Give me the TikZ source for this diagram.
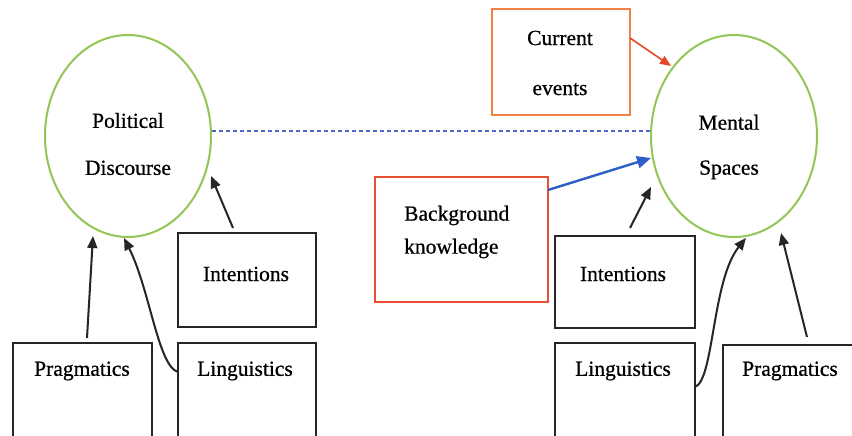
\documentclass[tikz,border=0pt]{standalone}
\usepackage{fontspec}
\setmainfont{Liberation Serif}[FakeBold=0.7]
\usetikzlibrary{shapes.geometric,arrows.meta}
\definecolor{egreen}{RGB}{146,198,86}
\definecolor{eorange}{RGB}{240,130,70}
\definecolor{ered}{RGB}{232,80,50}
\definecolor{eblue}{RGB}{45,95,200}
\definecolor{edash}{RGB}{80,100,210}
\definecolor{earrow}{RGB}{230,70,40}
\tikzset{
  circ/.style={draw=egreen, line width=2pt, ellipse, minimum width=166pt, minimum height=202pt, inner sep=0pt},
  bbox/.style={draw=black!85, line width=2.3pt, rectangle, inner sep=0pt},
  txt/.style={inner sep=0pt, font=\fontsize{21.5}{26}\selectfont},
  arr/.style={draw=black!85, line width=2pt, -{Triangle[length=12pt,width=10pt]}},
}
\begin{document}
\begin{tikzpicture}[x=1pt,y=-1pt]
\useasboundingbox (0,0) rectangle (852,436);
\clip (0,0) rectangle (852,436);
\fill[white] (0,0) rectangle (852,436);
% ellipses
\node[circ] (pd) at (128,136) {};
\node[circ] (ms) at (734,136) {};
\node[txt, align=center, font=\fontsize{21.5}{47}\selectfont] (pdt) at (128,144) {Political\\Discourse};
\node[txt, align=center, font=\fontsize{21.5}{45}\selectfont] (mst) at (729,147) {Mental\\Spaces};
% dashed link
\draw[edash, line width=1.4pt, dash pattern=on 4pt off 3pt] (pd.east |- 0,131) -- (ms.west |- 0,131);
% current events
\node[draw=eorange, line width=2pt, rectangle, minimum width=138pt, minimum height=106pt] (ce) at (561,62) {};
\node[txt, align=center, font=\fontsize{21.5}{50}\selectfont] (cet) at (560,63) {Current\\events};
% background knowledge
\node[draw=ered, line width=2pt, rectangle, minimum width=173pt, minimum height=125pt] (bk) at (461.5,239.5) {};
\node[txt, align=left, font=\fontsize{21.5}{33}\selectfont, anchor=west] (bkt) at (404,232) {Background\\knowledge};
% left boxes
\node[bbox, minimum width=138pt, minimum height=94pt] (li) at (247,280) {};
\node[txt] (lit) at (246,274) {Intentions};
\node[bbox, minimum width=139pt, minimum height=96pt] (lp) at (82.5,391) {};
\node[txt] (lpt) at (82,371) {Pragmatics};
\node[bbox, minimum width=138pt, minimum height=96pt] (ll) at (247,391) {};
\node[txt] (llt) at (245,371) {Linguistics};
% right boxes
\node[bbox, minimum width=140pt, minimum height=92pt] (ri) at (625,282) {};
\node[txt] (rit) at (623,274) {Intentions};
\node[bbox, minimum width=140pt, minimum height=96pt] (rl) at (625,391) {};
\node[txt] (rlt) at (623,371) {Linguistics};
\node[bbox, minimum width=140pt, minimum height=94pt] (rp) at (793,392) {};
\node[txt] (rpt) at (790,371) {Pragmatics};
% coordinates for arrow ends
\coordinate (a1s) at (233,228); \coordinate (a1e) at (211,176);
\coordinate (a2s) at (87,338);  \coordinate (a2e) at (93,236);
\coordinate (a3s) at (178,372); \coordinate (a3e) at (124,238);
\coordinate (a4s) at (630,228); \coordinate (a4e) at (651,187);
\coordinate (a5s) at (695,387); \coordinate (a5e) at (746,238);
\coordinate (a6s) at (807,337); \coordinate (a6e) at (781,233);
\coordinate (a7s) at (630,38);  \coordinate (a7e) at (671,66);
\coordinate (a8s) at (548,190); \coordinate (a8e) at (651,158);
% black arrows
\draw[arr] (a1s) -- (a1e);
\draw[arr] (a2s) -- (a2e);
\draw[arr] (a3s) .. controls (158,366) and (150,290) .. (a3e);
\draw[arr] (a4s) -- (a4e);
\draw[arr] (a5s) .. controls (714,380) and (712,280) .. (a5e);
\draw[arr] (a6s) -- (a6e);
% coloured arrows
\draw[earrow, line width=1.6pt, -{Triangle[length=11pt,width=9pt]}] (a7s) -- (a7e);
\draw[eblue, line width=2.4pt, -{Triangle[length=14pt,width=12pt]}] (a8s) -- (a8e);
\end{tikzpicture}
\end{document}
